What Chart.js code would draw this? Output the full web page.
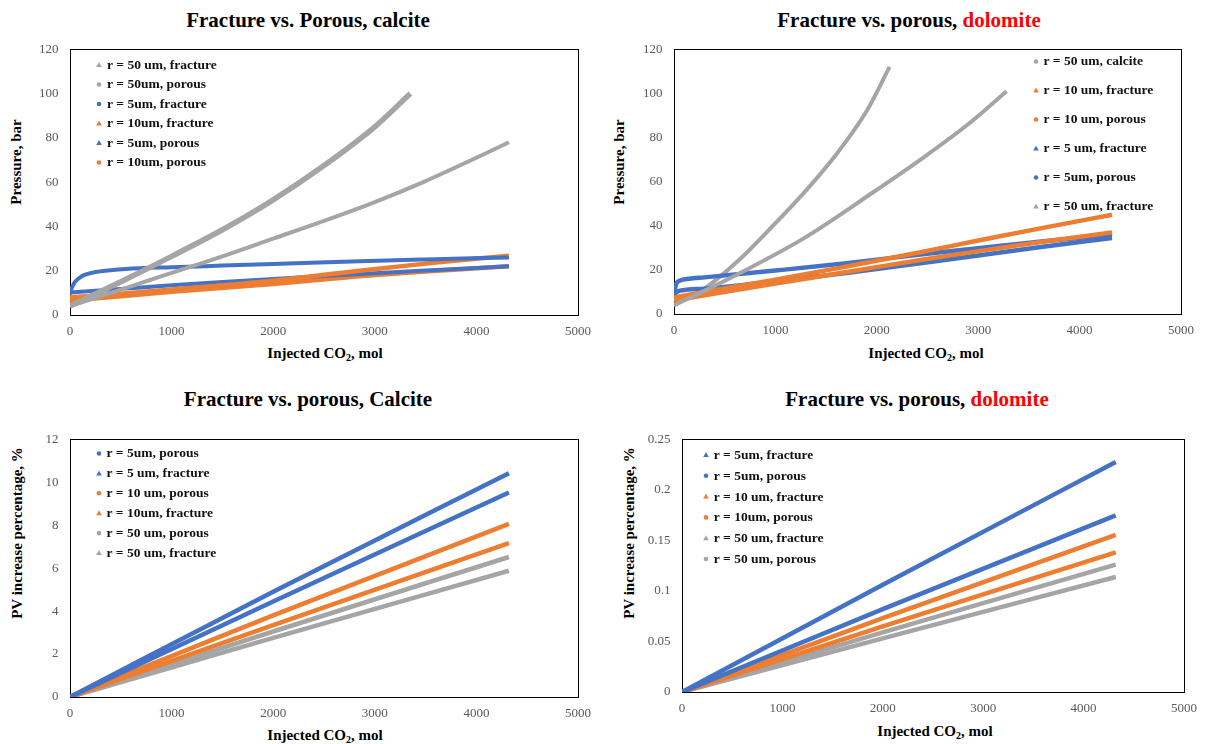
<!DOCTYPE html>
<html>
<head>
<meta charset="utf-8">
<script src="https://cdn.jsdelivr.net/npm/chart.js@4.4.1/dist/chart.umd.min.js"></script>
<style>
  body { margin:0; background:#fff; width:1206px; height:744px; position:relative; overflow:hidden; font-family:"Liberation Serif","Times New Roman",serif; }
  canvas { position:absolute; }
  .lbl { position:absolute; transform:translate(-50%,-50%); white-space:nowrap; font-weight:bold; color:#000; line-height:1; }
  .title { font-size:21px; }
  .axis { font-size:15px; }
  .rot { transform:translate(-50%,-50%) rotate(-90deg); }
  .red { color:#ff0000; }
  sub { font-size:10px; vertical-align:-3px; line-height:0; }
</style>
</head>
<body>
<div class="lbl title" style="left:308px;top:20px">Fracture vs. Porous, calcite</div>
<div class="lbl title" style="left:909px;top:20px">Fracture vs. porous, <span class="red">dolomite</span></div>
<div class="lbl title" style="left:308px;top:399px">Fracture vs. porous, Calcite</div>
<div class="lbl title" style="left:917px;top:399px">Fracture vs. porous, <span class="red">dolomite</span></div>

<div class="lbl axis rot" style="left:16px;top:162px">Pressure, bar</div>
<div class="lbl axis rot" style="left:619px;top:162px">Pressure, bar</div>
<div class="lbl axis rot" style="left:17px;top:533px">PV increase percentage, %</div>
<div class="lbl axis rot" style="left:629px;top:533px">PV increase percentage, %</div>

<div class="lbl axis" style="left:325px;top:353px">Injected CO<sub>2</sub>, mol</div>
<div class="lbl axis" style="left:926px;top:353px">Injected CO<sub>2</sub>, mol</div>
<div class="lbl axis" style="left:325px;top:735px">Injected CO<sub>2</sub>, mol</div>
<div class="lbl axis" style="left:935px;top:731px">Injected CO<sub>2</sub>, mol</div>

<canvas id="c1" width="600" height="320" style="left:0;top:30px"></canvas>
<canvas id="c2" width="603" height="320" style="left:603px;top:30px"></canvas>
<canvas id="c3" width="600" height="305" style="left:0;top:420px"></canvas>
<canvas id="c4" width="603" height="305" style="left:603px;top:420px"></canvas>

<script>
// colours (Excel default palette)
const BLUE = '#4472C4', ORANGE = '#ED7D31', GRAY = '#A5A5A5';

// x axis ticks shared by all charts
const xTicks = [0, 1000, 2000, 3000, 4000, 5000];

// ---- Chart 1: pressure, calcite ----
const c1_50f_x = [0, 500, 1000, 1500, 2000, 2500, 3000, 3350];
const c1_50f_y = [4, 15, 26.5, 38.5, 52, 67.5, 85, 100];
const c1_50p_x = [0, 500, 1000, 1500, 2000, 2500, 3000, 3500, 4000, 4320];
const c1_50p_y = [4, 11.5, 19, 26.5, 34.5, 42.5, 51, 60.5, 71, 78];
const c1_5f_x = [0, 20, 50, 100, 150, 230, 350, 550, 1000, 1500, 2000, 2850, 3500, 4320];
const c1_5f_y = [9.5, 12.5, 15, 17, 18.2, 19.2, 20, 20.8, 21.6, 22.3, 23, 24.3, 25.1, 26];
const c1_10f_x = [0, 500, 1000, 2000, 2850, 3500, 4320];
const c1_10f_y = [8, 9.6, 11.5, 15.5, 20, 23.2, 26.8];
const c1_5p_x = [0, 500, 1000, 1500, 2000, 2500, 3000, 3500, 4320];
const c1_5p_y = [10.2, 11.8, 13.4, 14.9, 16.3, 17.6, 18.9, 20.1, 22];
const c1_10p_x = [0, 500, 1000, 2000, 2850, 3500, 4320];
const c1_10p_y = [6.5, 8.5, 10.5, 14, 17.5, 19.6, 22];

// ---- Chart 2: pressure, dolomite ----
const c2_50c_x = [0, 300, 627, 1283, 1939, 2431, 2900, 3280];
const c2_50c_y = [4, 10.5, 18, 34.4, 54.4, 70, 86, 101];
const c2_10f_x = [0, 300, 1000, 1700, 2431, 3000, 3600, 4320];
const c2_10f_y = [7.5, 10, 15.5, 21.5, 28, 33.3, 38.7, 45];
const c2_10p_x = [0, 300, 1000, 1700, 2431, 3000, 3600, 4320];
const c2_10p_y = [6, 8.5, 13.8, 19, 24.5, 28.5, 32.5, 37];
const c2_5f_x = [0, 50, 300, 1000, 1700, 2431, 3000, 3600, 4320];
const c2_5f_y = [9, 10.5, 11.5, 14.8, 18.6, 23, 26.5, 30.3, 34.5];
const c2_5p_x = [0, 20, 60, 150, 300, 1000, 1700, 2431, 3000, 3600, 4320];
const c2_5p_y = [9, 13.5, 15.2, 16, 16.6, 19.7, 23, 27, 29.8, 32.8, 36];
const c2_50f_x = [0, 300, 630, 955, 1283, 1611, 1900, 2126];
const c2_50f_y = [4, 11.5, 24, 39, 55, 73, 92, 112];

// ---- Chart 3: PV increase, calcite ----
const c3_x = [0, 2000, 4320];
const c3_5p = [0, 4.9, 10.42];
const c3_5f = [0, 4.45, 9.52];
const c3_10p = [0, 3.8, 8.06];
const c3_10f = [0, 3.35, 7.17];
const c3_50p = [0, 3.05, 6.52];
const c3_50f = [0, 2.75, 5.88];

// ---- Chart 4: PV increase, dolomite ----
const c4_x = [0, 2000, 4320];
const c4_5f = [0, 0.106, 0.2276];
const c4_5p = [0, 0.082, 0.1747];
const c4_10f = [0, 0.073, 0.1554];
const c4_10p = [0, 0.065, 0.1381];
const c4_50f = [0, 0.059, 0.126];
const c4_50p = [0, 0.053, 0.1138];

function series(label, xs, ys, color, shape, width) {
  return {
    label: label,
    data: xs.map((x, i) => ({ x: x, y: ys[i] })),
    borderColor: color,
    backgroundColor: color,
    pointStyle: shape,
    borderWidth: width || 4.5,
    pointRadius: 0,
    showLine: true,
    cubicInterpolationMode: 'monotone'
  };
}

// black frame around the plot area
const frame = {
  id: 'frame',
  beforeDatasetsDraw(chart) {
    const a = chart.chartArea, ctx = chart.ctx;
    ctx.save();
    ctx.strokeStyle = '#000';
    ctx.lineWidth = 1;
    ctx.strokeRect(Math.round(a.left) + 0.5, Math.round(a.top) + 0.5,
                   Math.round(a.right - a.left), Math.round(a.bottom - a.top));
    ctx.restore();
  }
};

// small legend drawn inside the plot, like the Excel one
const innerLegend = {
  id: 'innerLegend',
  afterDraw(chart, args, o) {
    const ctx = chart.ctx;
    ctx.save();
    ctx.font = 'bold 13.5px "Liberation Serif"';
    ctx.textBaseline = 'middle';
    chart.data.datasets.forEach((ds, i) => {
      const y = o.y + i * o.gap;
      ctx.fillStyle = ds.borderColor;
      ctx.beginPath();
      if (ds.pointStyle === 'triangle') {
        ctx.moveTo(o.x, y - 3);
        ctx.lineTo(o.x + 2.8, y + 2);
        ctx.lineTo(o.x - 2.8, y + 2);
        ctx.closePath();
      } else {
        ctx.arc(o.x, y, 2.3, 0, Math.PI * 2);
      }
      ctx.fill();
      ctx.fillStyle = '#111';
      ctx.fillText(ds.label, o.x + o.tx, y + 0.5);
    });
    ctx.restore();
  }
};

function makeChart(id, datasets, cfg) {
  const tickFont = { family: 'Liberation Serif', size: 13 };
  new Chart(document.getElementById(id), {
    type: 'scatter',
    data: { datasets: datasets },
    plugins: [frame, innerLegend],
    options: {
      responsive: false,
      animation: false,
      events: [],
      layout: { padding: { top: cfg.padTop, right: cfg.padRight, left: 0, bottom: 0 } },
      plugins: {
        legend: { display: false },
        tooltip: { enabled: false },
        innerLegend: cfg.legend
      },
      scales: {
        x: {
          type: 'linear', min: 0, max: 5000,
          afterBuildTicks: s => { s.ticks = xTicks.map(v => ({ value: v })); },
          grid: { display: false, drawTicks: false },
          border: { display: false },
          ticks: { color: '#595959', font: tickFont, padding: 9, maxRotation: 0, callback: v => String(v) },
          afterFit: s => { s.height = cfg.xHeight; }
        },
        y: {
          type: 'linear', min: 0, max: cfg.yMax,
          afterBuildTicks: s => { s.ticks = cfg.yTicks.map(v => ({ value: v })); },
          grid: { display: false, drawTicks: false },
          border: { display: false },
          ticks: { color: '#595959', font: tickFont, padding: 11.5, callback: v => String(v) },
          afterFit: s => { s.width = cfg.yWidth; }
        }
      }
    }
  });
}

makeChart('c1', [
  series('r = 50 um, fracture', c1_50f_x, c1_50f_y, GRAY, 'triangle', 5.5),
  series('r = 50um, porous', c1_50p_x, c1_50p_y, GRAY, 'circle', 4),
  series('r = 5um, fracture', c1_5f_x, c1_5f_y, BLUE, 'circle', 4),
  series('r = 10um, fracture', c1_10f_x, c1_10f_y, ORANGE, 'triangle', 4.5),
  series('r = 5um, porous', c1_5p_x, c1_5p_y, BLUE, 'triangle', 4),
  series('r = 10um, porous', c1_10p_x, c1_10p_y, ORANGE, 'circle', 4.5)
], { yMax: 120, yTicks: [0, 20, 40, 60, 80, 100, 120], padTop: 15, padRight: 22, yWidth: 70, xHeight: 35,
     legend: { x: 99, y: 35, gap: 19.5, tx: 8 } });

makeChart('c2', [
  series('r = 50 um, calcite', c2_50c_x, c2_50c_y, GRAY, 'circle', 4),
  series('r = 10 um, fracture', c2_10f_x, c2_10f_y, ORANGE, 'triangle', 4.5),
  series('r = 10 um, porous', c2_10p_x, c2_10p_y, ORANGE, 'circle', 4.5),
  series('r = 5 um, fracture', c2_5f_x, c2_5f_y, BLUE, 'triangle', 4.5),
  series('r = 5um, porous', c2_5p_x, c2_5p_y, BLUE, 'circle', 4.5),
  series('r = 50 um, fracture', c2_50f_x, c2_50f_y, GRAY, 'triangle', 4)
], { yMax: 120, yTicks: [0, 20, 40, 60, 80, 100, 120], padTop: 12, padRight: 25, yWidth: 71, xHeight: 36,
     legend: { x: 433, y: 31.5, gap: 29, tx: 7.5 } });

makeChart('c3', [
  series('r = 5um, porous', c3_x, c3_5p, BLUE, 'circle'),
  series('r = 5 um, fracture', c3_x, c3_5f, BLUE, 'triangle'),
  series('r = 10 um, porous', c3_x, c3_10p, ORANGE, 'circle'),
  series('r = 10um, fracture', c3_x, c3_10f, ORANGE, 'triangle'),
  series('r = 50 um, porous', c3_x, c3_50p, GRAY, 'circle'),
  series('r = 50 um, fracture', c3_x, c3_50f, GRAY, 'triangle')
], { yMax: 12, yTicks: [0, 2, 4, 6, 8, 10, 12], padTop: 13, padRight: 22, yWidth: 70, xHeight: 28,
     legend: { x: 99, y: 33.5, gap: 19.9, tx: 7.5 } });

makeChart('c4', [
  series('r = 5um, fracture', c4_x, c4_5f, BLUE, 'triangle'),
  series('r = 5um, porous', c4_x, c4_5p, BLUE, 'circle'),
  series('r = 10 um, fracture', c4_x, c4_10f, ORANGE, 'triangle'),
  series('r = 10um, porous', c4_x, c4_10p, ORANGE, 'circle'),
  series('r = 50 um, fracture', c4_x, c4_50f, GRAY, 'triangle'),
  series('r = 50 um, porous', c4_x, c4_50p, GRAY, 'circle')
], { yMax: 0.25, yTicks: [0, 0.05, 0.1, 0.15, 0.2, 0.25], padTop: 12, padRight: 14, yWidth: 79, xHeight: 33,
     legend: { x: 103, y: 35, gap: 20.8, tx: 7.7 } });
</script>
</body>
</html>
